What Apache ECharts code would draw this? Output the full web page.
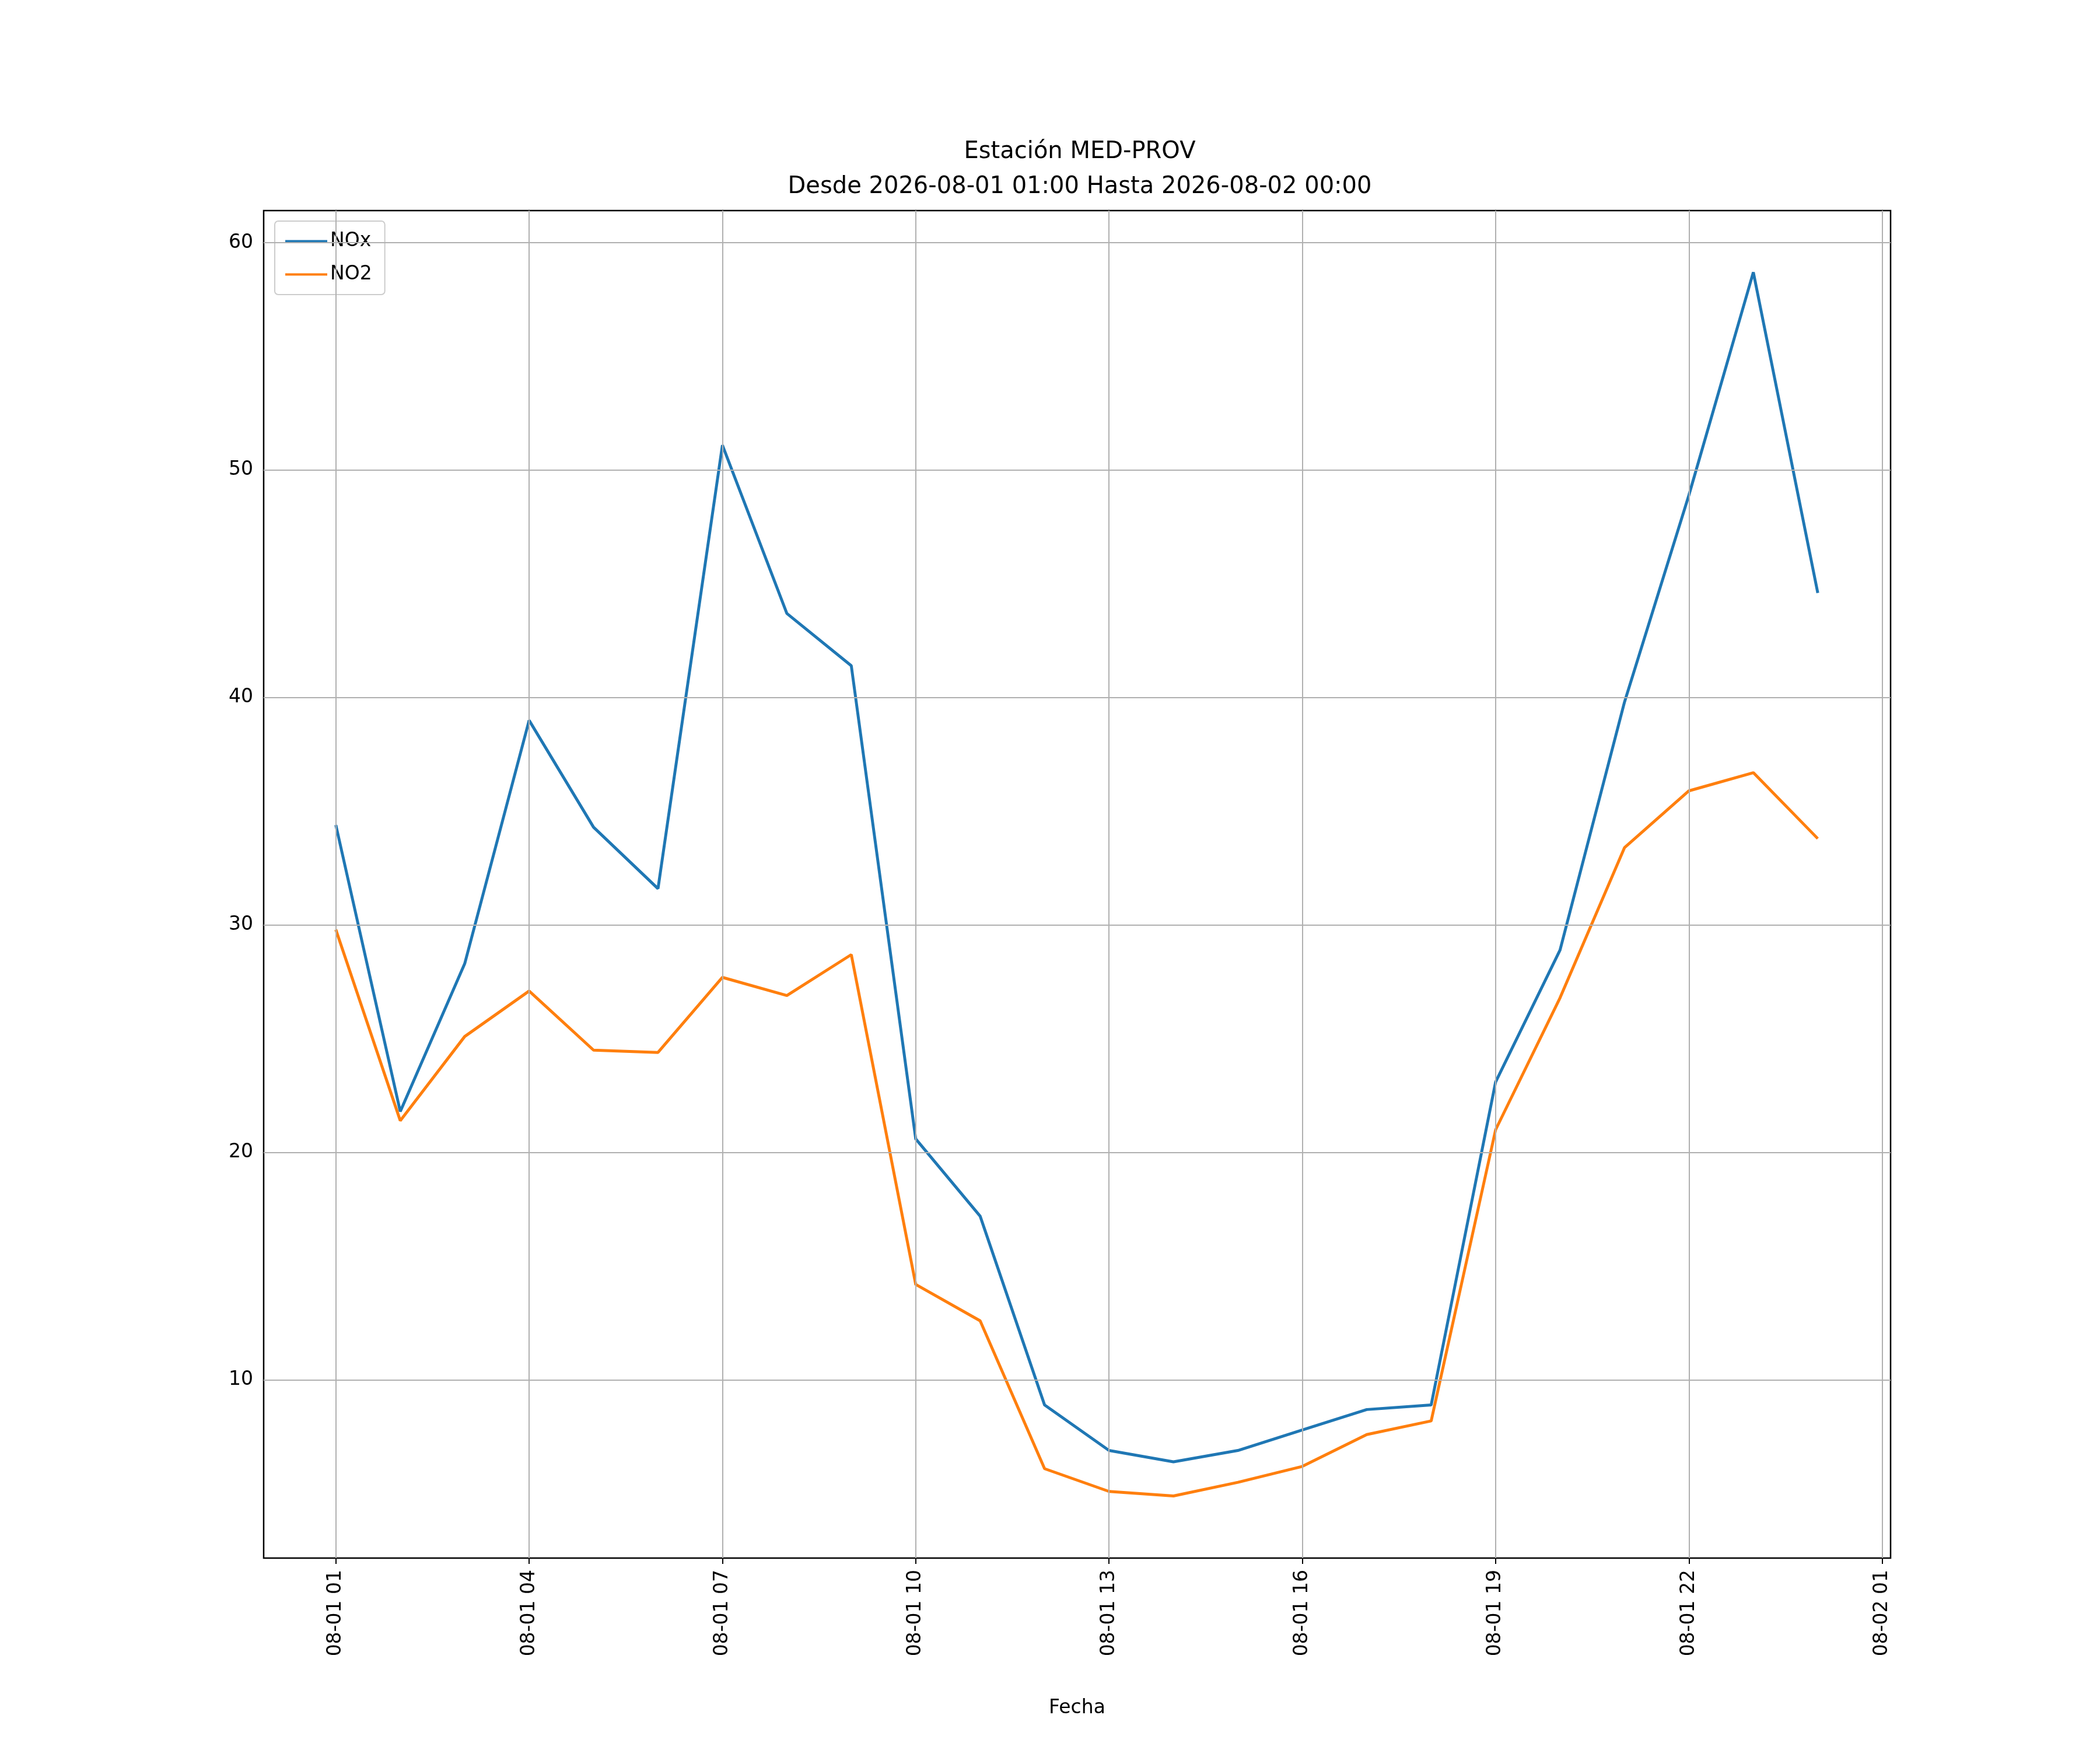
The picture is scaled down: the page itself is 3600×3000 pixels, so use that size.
<!DOCTYPE html>
<html><head><meta charset="utf-8">
<script src="https://cdn.jsdelivr.net/npm/echarts@6/dist/echarts.min.js"></script>
<style>html,body{margin:0;padding:0;background:#fff}#c{width:3600px;height:3000px}</style>
</head><body><div id="c"></div>
<script>
const hours = [1,2,3,4,5,6,7,8,9,10,11,12,13,14,15,16,17,18,19,20,21,22,23,24];
const nox = [34.4,21.8,28.3,39.0,34.3,31.6,51.1,43.7,41.4,20.6,17.2,8.9,6.9,6.4,6.9,7.8,8.7,8.9,23.1,28.9,39.8,48.9,58.7,44.6];
const no2 = [29.8,21.4,25.1,27.1,24.5,24.4,27.7,26.9,28.7,14.2,12.6,6.1,5.1,4.9,5.5,6.2,7.6,8.2,21.0,26.8,33.4,35.9,36.7,33.8];
const xTicks = [1,4,7,10,13,16,19,22,25];
const xTickLabels = ['08-01 01','08-01 04','08-01 07','08-01 10','08-01 13','08-01 16','08-01 19','08-01 22','08-02 01'];
const yTicks = [10,20,30,40,50,60];
const titleText = 'Estación MED-PROV\nDesde 2026-08-01 01:00 Hasta 2026-08-02 00:00';

const font = 'DejaVu Sans';
const chart = echarts.init(document.getElementById('c'));
const gridLines = xTicks.map(v => ({xAxis: v})).concat(yTicks.map(v => ({yAxis: v})));
chart.setOption({
  animation: false,
  textStyle: {fontFamily: font},
  title: {text: titleText, left: 1846, textAlign: 'center', top: 226,
    textStyle: {fontFamily: font, fontSize: 40, fontWeight: 'normal', color: '#000', lineHeight: 60}},
  legend: {left: 471, top: 379, orient: 'vertical', itemWidth: 72, itemHeight: 4, itemGap: 24,
    padding: [18, 22, 18, 18], borderColor: '#ccc', borderWidth: 2, borderRadius: 6,
    textStyle: {fontFamily: font, fontSize: 33, color: '#000'},
    data: [{name: 'NOx', icon: 'rect'}, {name: 'NO2', icon: 'rect'}]},
  grid: {left: 452, right: 359, top: 361, bottom: 329, show: true, borderColor: '#000', borderWidth: 2.5},
  xAxis: {type: 'value', min: -0.12, max: 25.13, name: 'Fecha', nameLocation: 'middle', nameGap: 241,
    nameTextStyle: {fontFamily: font, fontSize: 33, color: '#000'},
    axisLine: {show: false}, splitLine: {show: false},
    axisTick: {show: true, length: 10, lineStyle: {color: '#000', width: 2}, customValues: xTicks},
    axisLabel: {customValues: xTicks, rotate: 90, fontSize: 33, color: '#000', fontFamily: font, margin: 20,
      formatter: v => xTickLabels[xTicks.indexOf(v)] || ''}},
  yAxis: {type: 'value', min: 2.17, max: 61.41,
    axisLine: {show: false}, splitLine: {show: false},
    axisTick: {show: true, length: 10, lineStyle: {color: '#000', width: 2}, customValues: yTicks},
    axisLabel: {customValues: yTicks, fontSize: 33, color: '#000', fontFamily: font, margin: 18}},
  series: [
    {name: 'NOx', type: 'line', data: hours.map((h, i) => [h, nox[i]]), symbol: 'none',
      lineStyle: {width: 5, color: '#1f77b4'}, itemStyle: {color: '#1f77b4'}, z: 3,
      markLine: {silent: true, symbol: 'none', label: {show: false},
        lineStyle: {color: '#b0b0b0', width: 2, type: 'solid'}, data: gridLines}},
    {name: 'NO2', type: 'line', data: hours.map((h, i) => [h, no2[i]]), symbol: 'none',
      lineStyle: {width: 5, color: '#ff7f0e'}, itemStyle: {color: '#ff7f0e'}, z: 3}
  ]
});
</script></body></html>
